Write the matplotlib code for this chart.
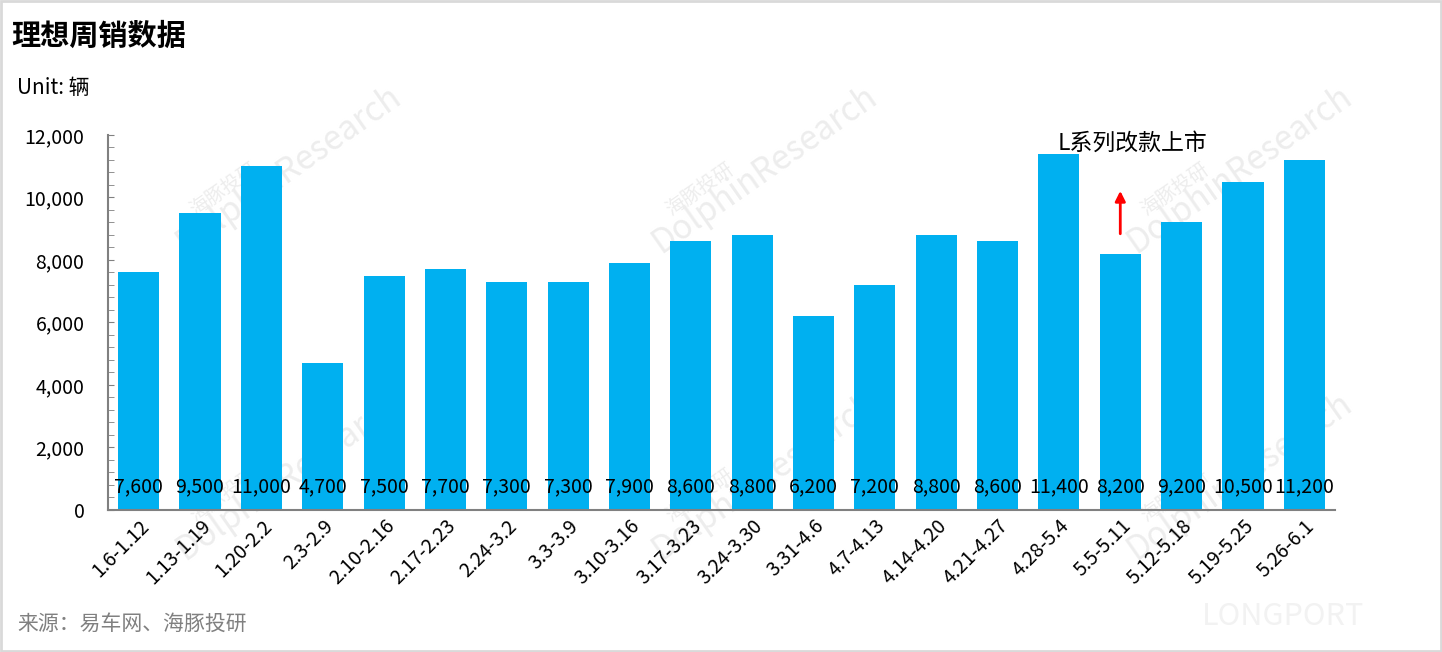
import matplotlib
matplotlib.use("Agg")
import matplotlib.pyplot as plt
from matplotlib.ticker import MultipleLocator, FuncFormatter

plt.rcParams["font.family"] = ["Noto Sans CJK SC", "DejaVu Sans"]

weeks = ["1.6-1.12", "1.13-1.19", "1.20-2.2", "2.3-2.9", "2.10-2.16",
         "2.17-2.23", "2.24-3.2", "3.3-3.9", "3.10-3.16", "3.17-3.23",
         "3.24-3.30", "3.31-4.6", "4.7-4.13", "4.14-4.20", "4.21-4.27",
         "4.28-5.4", "5.5-5.11", "5.12-5.18", "5.19-5.25", "5.26-6.1"]
sales = [7600, 9500, 11000, 4700, 7500, 7700, 7300, 7300, 7900, 8600,
         8800, 6200, 7200, 8800, 8600, 11400, 8200, 9200, 10500, 11200]

note_idx = 16
note_text = "L系列改款上市"

BLUE = "#00B0F0"
GRAY = "#808080"
WM = "#ededed"

fig = plt.figure(figsize=(14.42, 6.52), dpi=100)
ax = fig.add_axes([0.0749, 0.2178, 0.8509, 0.5752])

# faint watermarks, kept behind the bars
for fx, fy in [(0.20, 0.74), (0.53, 0.74), (0.86, 0.74),
               (0.20, 0.27), (0.53, 0.27), (0.86, 0.27)]:
    ax.text(fx, fy, "DolphinResearch", rotation=35, fontsize=24,
            color=WM, ha="center", va="center", zorder=0,
            transform=fig.transFigure, clip_on=False)
    ax.text(fx - 0.045, fy - 0.03, "海豚投研", rotation=35, fontsize=14,
            color=WM, ha="center", va="center", zorder=0,
            transform=fig.transFigure, clip_on=False)
fig.text(0.89, 0.055, "LONGPORT", fontsize=22, color="#f2f2f2",
         ha="center", va="center", zorder=0)

x = range(len(weeks))
ax.bar(x, sales, width=0.67, color=BLUE, zorder=2)
for i, v in enumerate(sales):
    ax.text(i, 730, f"{v:,}", ha="center", va="center", fontsize=14,
            color="black", zorder=3)

ax.set_xlim(-0.5, len(weeks) - 0.5)
ax.set_ylim(0, 12000)
ax.patch.set_alpha(0)

ax.yaxis.set_major_locator(MultipleLocator(2000))
ax.yaxis.set_minor_locator(MultipleLocator(400))
ax.yaxis.set_major_formatter(FuncFormatter(lambda v, p: f"{int(v):,}"))
ax.tick_params(axis="y", which="both", direction="in", length=4,
               color=GRAY, labelsize=14, pad=17)
ax.tick_params(axis="x", length=0, labelsize=14, pad=4)
ax.set_xticks(list(x))
ax.set_xticklabels(weeks, rotation=45, ha="right", rotation_mode="anchor")

for s in ["top", "right"]:
    ax.spines[s].set_visible(False)
for s in ["left", "bottom"]:
    ax.spines[s].set_color(GRAY)
    ax.spines[s].set_linewidth(1.5)

ax.annotate("", xy=(note_idx, 10300), xytext=(note_idx, 8750),
            arrowprops=dict(arrowstyle="-|>", color="red", lw=2,
                            mutation_scale=15), zorder=4)
ax.text(note_idx + 0.2, 11750, note_text, ha="center", va="center",
        fontsize=16.5, color="black", zorder=4)

fig.text(0.008, 0.945, "理想周销数据", fontsize=21, fontweight="bold",
         ha="left", va="center")
fig.text(0.012, 0.865, "Unit: 辆", fontsize=15, ha="left", va="center")
fig.text(0.012, 0.044, "来源：易车网、海豚投研", fontsize=15, color=GRAY,
         ha="left", va="center")

fig.patches.append(plt.Rectangle((0.001, 0.002), 0.998, 0.996,
                                 transform=fig.transFigure, fill=False,
                                 edgecolor="#d9d9d9", lw=2))

fig.savefig("out.png", dpi=100)
